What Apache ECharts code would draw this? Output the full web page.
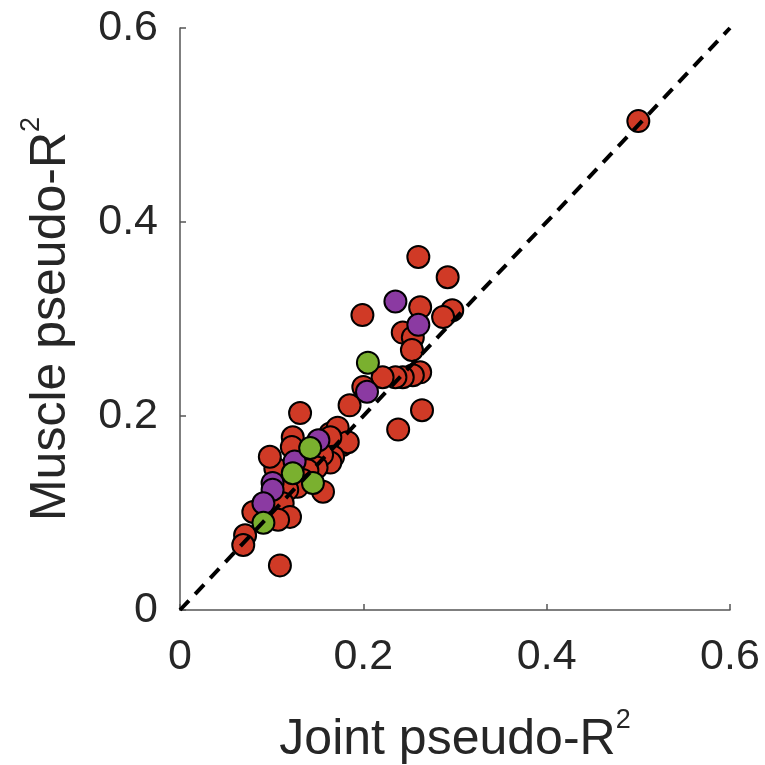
<!DOCTYPE html>
<html><head><meta charset="utf-8">
<script src="https://cdn.jsdelivr.net/npm/echarts@6/dist/echarts.min.js"></script>
<style>html,body{margin:0;padding:0;background:#fff}#c{width:765px;height:765px}</style>
</head><body><div id="c"></div>
<script>
const xTicks = [0, 0.2, 0.4, 0.6];
const yTicks = [0, 0.2, 0.4, 0.6];
const identityLine = [[0, 0], [0.6, 0.6]];
const redJoint = [0.500,0.260,0.292,0.199,0.262,0.297,0.287,0.243,0.254,0.253,0.262,0.254,0.243,0.235,0.221,0.200,0.185,0.264,0.238,0.171,0.164,0.131,0.172,0.177,0.183,0.164,0.123,0.122,0.167,0.164,0.155,0.104,0.149,0.139,0.156,0.134,0.128,0.117,0.112,0.080,0.120,0.107,0.071,0.069,0.109,0.098];
const redMuscle = [0.504,0.364,0.343,0.304,0.312,0.309,0.302,0.286,0.281,0.268,0.245,0.242,0.240,0.240,0.240,0.230,0.211,0.206,0.186,0.186,0.182,0.203,0.188,0.170,0.173,0.178,0.178,0.168,0.158,0.152,0.160,0.146,0.147,0.144,0.122,0.134,0.127,0.124,0.110,0.101,0.096,0.093,0.077,0.067,0.046,0.158];
const purpleJoint = [0.235,0.260,0.204,0.151,0.125,0.101,0.101,0.091];
const purpleMuscle = [0.318,0.294,0.225,0.175,0.153,0.131,0.124,0.110];
const greenJoint = [0.205,0.142,0.123,0.145,0.091];
const greenMuscle = [0.255,0.167,0.141,0.131,0.090];

const pairs = (a, b) => a.map((v, i) => [v, b[i]]);
const font = 'Helvetica, Arial, "Liberation Sans", sans-serif';
const mk = (name, color, xs, ys, z) => ({
  name, type: 'scatter', data: pairs(xs, ys), symbolSize: 22, z,
  itemStyle: { color, borderColor: '#000', borderWidth: 2, opacity: 1 }
});
const axisCommon = {
  type: 'value', min: 0, max: 0.6, interval: 0.2,
  axisLine: { show: true, lineStyle: { color: '#555', width: 1.5 } },
  axisTick: { show: true, inside: true, length: 6, lineStyle: { color: '#555', width: 1.5 } },
  splitLine: { show: false },
  axisLabel: { color: '#262626', fontSize: 43, fontFamily: font, formatter: v => v === 0 ? '0' : String(Math.round(v*10)/10) },
  nameLocation: 'middle',
  nameTextStyle: { color: '#262626', fontSize: 50, fontFamily: font, lineHeight: 66,
    rich: { sup: { fontSize: 27, lineHeight: 27, color: '#262626', fontFamily: font, verticalAlign: 'top' } } }
};
const chart = echarts.init(document.getElementById('c'));
chart.setOption({
  animation: false,
  grid: { left: 180, right: 35, top: 28, bottom: 155, containLabel: false, outerBoundsMode: 'none' },
  xAxis: Object.assign({}, axisCommon, { name: 'Joint pseudo-R{sup|2}', nameGap: 97,
    axisLabel: Object.assign({}, axisCommon.axisLabel, { margin: 26 }) }),
  yAxis: Object.assign({}, axisCommon, { name: 'Muscle pseudo-R{sup|2}', nameGap: 96,
    axisLabel: Object.assign({}, axisCommon.axisLabel, { margin: 22 }) }),
  series: [
    mk('red', '#d03a26', redJoint, redMuscle, 2),
    mk('purple', '#8b3aa2', purpleJoint, purpleMuscle, 3),
    mk('green', '#7ab02f', greenJoint, greenMuscle, 4),
    { type: 'line', data: identityLine, symbol: 'none', z: 10, silent: true,
      lineStyle: { color: '#000', width: 4, type: [13, 9] } }
  ]
});
</script></body></html>
